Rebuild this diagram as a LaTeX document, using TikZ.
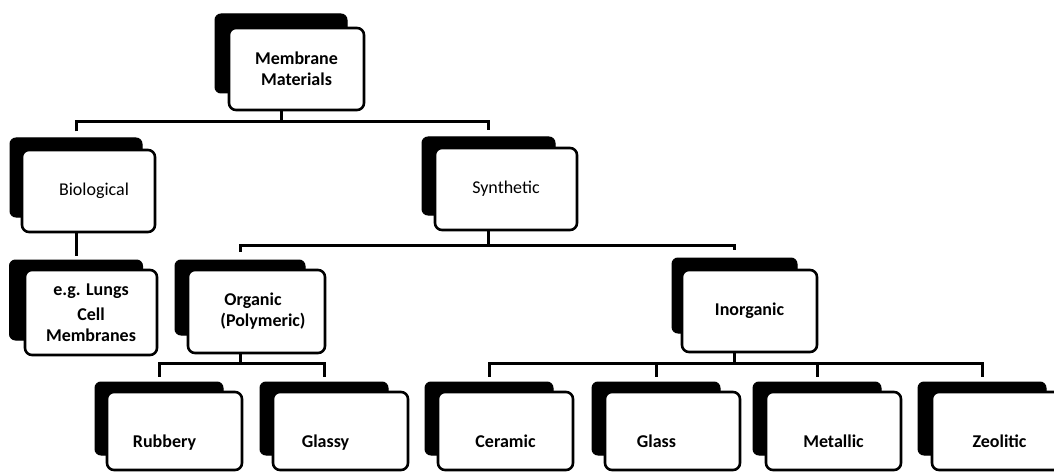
\documentclass[tikz,border=0pt]{standalone}
\usepackage{fontspec}
\setmainfont{Carlito}
\usetikzlibrary{calc}
\tikzset{
  shad/.style={draw=black, fill=black, rounded corners=6pt, inner sep=0pt, line width=1pt},
  front/.style={draw=black, fill=white, line width=2.6pt, rounded corners=7pt, inner sep=0pt,
    align=center, font=\fontsize{18}{21}\selectfont\bfseries},
  frontreg/.style={front, font=\fontsize{18}{21}\selectfont},
  lowbox/.style={front, minimum width=135pt, minimum height=78pt, text height=13pt, text depth=4pt},
  conn/.style={line width=3pt},
}
\newcommand{\lowtext}[1]{\raisebox{-12pt}{#1}}
\begin{document}
\begin{tikzpicture}[x=1pt,y=-1pt]
\useasboundingbox (0,0) rectangle (1054,473);
\clip (0,0) rectangle (1054,473);
% shadows
\node[shad, minimum width=132pt, minimum height=79pt] (smm) at (281,53.5) {};
\node[shad, minimum width=132pt, minimum height=79pt] (sbio) at (76,177.5) {};
\node[shad, minimum width=133pt, minimum height=80pt] (seg) at (76,300) {};
\node[shad, minimum width=133pt, minimum height=78pt] (ssyn) at (488.5,176) {};
\node[shad, minimum width=130pt, minimum height=75pt] (sorg) at (240,297.5) {};
\node[shad, minimum width=125pt, minimum height=75pt] (sino) at (734.5,295.5) {};
\node[shad, minimum width=128pt, minimum height=73pt] (srub) at (159,418.5) {};
\node[shad, minimum width=128pt, minimum height=73pt] (sgly) at (324,418.5) {};
\node[shad, minimum width=128pt, minimum height=73pt] (scer) at (489,418.5) {};
\node[shad, minimum width=128pt, minimum height=73pt] (sgla) at (656,418.5) {};
\node[shad, minimum width=128pt, minimum height=73pt] (smet) at (817,418.5) {};
\node[shad, minimum width=128pt, minimum height=73pt] (szeo) at (982,418.5) {};
% front boxes
\node[front, minimum width=135pt, minimum height=82pt] (mm) at (296.5,69) {Membrane\\Materials};
\node[frontreg, minimum width=133pt, minimum height=82pt] (bio) at (88.5,191) {\hspace*{11pt}Biological};
\node[front, minimum width=132pt, minimum height=85pt] (eg) at (91,312.5) {e.g. Lungs\\[4pt]Cell\\Membranes};
\node[frontreg, minimum width=142pt, minimum height=82pt] (syn) at (506,189) {Synthetic};
\node[front, minimum width=137pt, minimum height=83pt] (org) at (256.5,311.5) {Organic\hspace*{7pt}\\\hspace*{13pt}(Polymeric)};
\node[front, minimum width=135pt, minimum height=82pt] (ino) at (749.5,311) {Inorganic};
\node[lowbox] (rub) at (174.5,431) {\lowtext{Rubbery}\hspace*{20pt}};
\node[lowbox] (gly) at (340.5,431) {\lowtext{Glassy}\hspace*{30pt}};
\node[lowbox] (cer) at (505.5,431) {\lowtext{Ceramic}};
\node[lowbox] (gla) at (672.5,431) {\lowtext{Glass}\hspace*{32pt}};
\node[lowbox] (met) at (833.5,431) {\lowtext{Metallic}};
\node[lowbox] (zeo) at (999.5,431) {\lowtext{Zeolitic}};
% connectors
\draw[conn] (smm |- mm.south) -- (smm |- 0,122);
\draw[conn] ($(sbio.north)+(0,-6)$) |- (ssyn |- 0,122) -- ($(ssyn.north)+(0,-6)$);
\draw[conn] (sbio |- bio.south) -- ($(seg.north)+(0,-4)$);
\draw[conn] (ssyn |- syn.south) -- (ssyn |- 0,245);
\draw[conn] ($(sorg.north)+(0,-8)$) |- (sino |- 0,245) -- ($(sino.north)+(0,-8)$);
\draw[conn] (sorg |- org.south) -- (sorg |- 0,363);
\draw[conn] ($(srub.north)+(0,-5)$) |- (sgly |- 0,363) -- ($(sgly.north)+(0,-5)$);
\draw[conn] (sino |- ino.south) -- (sino |- 0,363);
\draw[conn] ($(scer.north)+(0,-5)$) |- (szeo |- 0,363) -- ($(szeo.north)+(0,-5)$);
\draw[conn] (sgla |- 0,363) -- ($(sgla.north)+(0,-5)$);
\draw[conn] (smet |- 0,363) -- ($(smet.north)+(0,-5)$);
\end{tikzpicture}
\end{document}
